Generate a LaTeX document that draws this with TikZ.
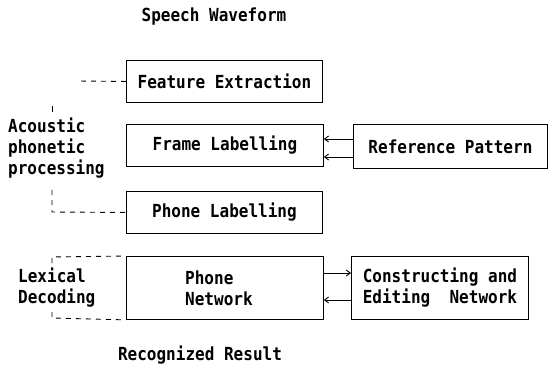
\documentclass[tikz,border=0pt]{standalone}
\usepackage{fontspec}
\newfontfamily\dmono[FakeStretch=0.89]{DejaVu Sans Mono}
\usetikzlibrary{arrows.meta}
\begin{document}
\begin{tikzpicture}[x=1pt,y=-1pt,
  txt/.style={font=\dmono\bfseries\fontsize{18}{21}\selectfont, inner sep=0pt},
  box/.style={draw, line width=0.9pt, inner sep=0pt, anchor=north west},
  conn/.style={line width=0.9pt, -{Straight Barb[length=4pt,width=6pt]}},
  dsh/.style={line width=0.9pt, dash pattern=on 5pt off 5pt}]
\useasboundingbox (0,0) rectangle (555,376);
\node[txt] (sw) at (214,17) {Speech Waveform};
\node[box, minimum width=196pt, minimum height=42pt] (fe) at (126,60) {};
\node[txt] (fet) at (fe.center) {Feature Extraction};
\node[box, minimum width=197pt, minimum height=42pt] (fl) at (126,124) {};
\node[txt] (flt) at (fl.center) {Frame Labelling};
\node[box, minimum width=194pt, minimum height=44pt] (rp) at (353,124) {};
\node[txt] (rpt) at (rp.center) {Reference Pattern};
\node[box, minimum width=196pt, minimum height=42pt] (pl) at (126,191) {};
\node[txt] (plt) at (pl.center) {Phone Labelling};
\node[box, minimum width=197pt, minimum height=63pt] (pn) at (126,256) {};
\node[txt, align=left, anchor=west] (pnt) at (185,288) {Phone\\Network};
\node[box, minimum width=177pt, minimum height=63pt] (ce) at (351,256) {};
\node[txt, align=left] (cet) at (ce.center) {Constructing and\\Editing\ \ Network};
\node[txt, align=left, anchor=west] (ap) at (8,148) {Acoustic\\phonetic\\processing};
\node[txt, align=left, anchor=west] (ld) at (18,288) {Lexical\\Decoding};
\node[txt] (rr) at (200,355) {Recognized Result};
% arrows
\draw[conn] (rp.west |- 0,139) -- (fl.east |- 0,139);
\draw[conn] (rp.west |- 0,157) -- (fl.east |- 0,157);
\draw[conn] (pn.east |- 0,273) -- (ce.west |- 0,273);
\draw[conn] (ce.west |- 0,300) -- (pn.east |- 0,300);
% dashed brackets
\coordinate (a1) at (78,81);
\draw[dsh] (fe.west) -- (a1);
\draw[line width=1pt] (52,106) -- (52,112);
\coordinate (a2) at (52,190);
\draw[dsh] (a2) -- (52,212) -- (pl.west);
\coordinate (b1) at (52,257);
\coordinate (b2) at (52,318);
\draw[dsh] (52,263) -- (b1) -- (pn.north west);
\draw[dsh] (52,312) -- (b2) -- (pn.south west);
\end{tikzpicture}
\end{document}
